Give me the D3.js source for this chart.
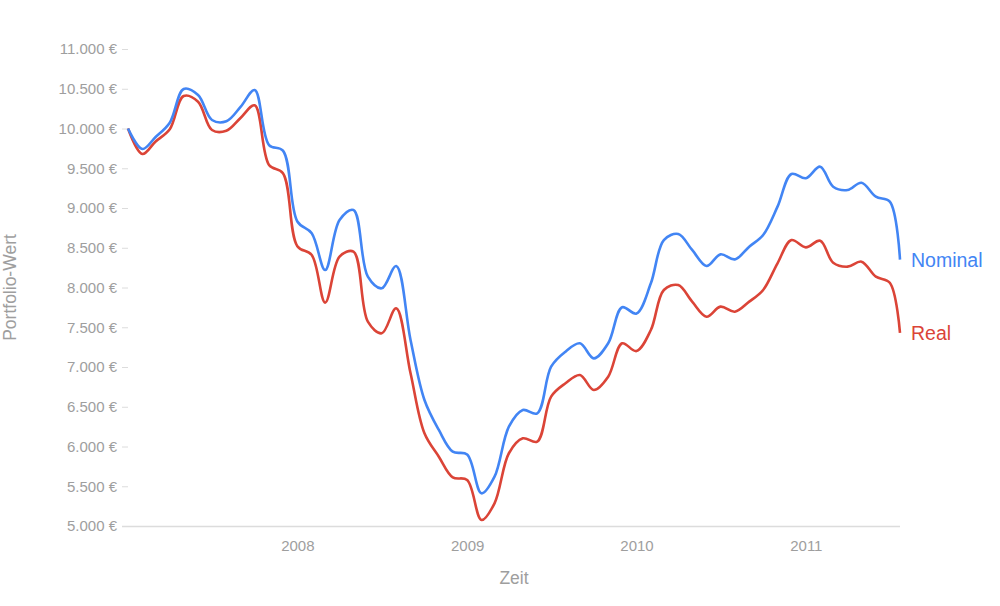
<!DOCTYPE html>
<html>
<head>
<meta charset="utf-8">
<script src="https://cdn.jsdelivr.net/npm/d3@7"></script>
<style>
  html, body { margin: 0; padding: 0; background: #fff; }
  svg { display: block; font-family: "Liberation Sans", Arial, sans-serif; }
</style>
</head>
<body>
<svg id="chart" width="1000" height="606"></svg>
<script>
// ---- data ----
const dates = [
  "2007-01-01","2007-02-01","2007-03-01","2007-04-01","2007-05-01","2007-06-01",
  "2007-07-01","2007-08-01","2007-09-01","2007-10-01","2007-11-01","2007-12-01",
  "2008-01-01","2008-02-01","2008-03-01","2008-04-01","2008-05-01","2008-06-01",
  "2008-07-01","2008-08-01","2008-09-01","2008-10-01","2008-11-01","2008-12-01",
  "2009-01-01","2009-02-01","2009-03-01","2009-04-01","2009-05-01","2009-06-01",
  "2009-07-01","2009-08-01","2009-09-01","2009-10-01","2009-11-01","2009-12-01",
  "2010-01-01","2010-02-01","2010-03-01","2010-04-01","2010-05-01","2010-06-01",
  "2010-07-01","2010-08-01","2010-09-01","2010-10-01","2010-11-01","2010-12-01",
  "2011-01-01","2011-02-01","2011-03-01","2011-04-01","2011-05-01","2011-06-01",
  "2011-07-01","2011-07-23"
];
const nominal = [
  10000, 9742, 9890, 10073, 10497, 10421, 10107, 10091, 10275, 10484, 9792, 9721,
  8830, 8682, 8220, 8849, 8975, 8136, 7990, 8270, 7340, 6585, 6208, 5935,
  5900, 5411, 5620, 6249, 6459, 6417, 7004, 7193, 7298, 7109, 7298, 7751,
  7672, 8053, 8597, 8673, 8472, 8270, 8417, 8354, 8513, 8660, 9017, 9428,
  9374, 9520, 9268, 9226, 9318, 9142, 9080, 8350
];
const real = [
  10000, 9679, 9834, 9990, 10409, 10337, 9981, 9972, 10136, 10292, 9541, 9437,
  8520, 8409, 7810, 8388, 8451, 7570, 7424, 7738, 6921, 6166, 5872, 5612,
  5579, 5075, 5285, 5915, 6103, 6061, 6627, 6795, 6899, 6711, 6878, 7298,
  7200, 7465, 7969, 8031, 7822, 7633, 7759, 7696, 7822, 7969, 8304, 8597,
  8505, 8588, 8312, 8262, 8325, 8136, 8060, 7430
];
const seriesNames = ["Nominal", "Real"];
const yTicks = [5000, 5500, 6000, 6500, 7000, 7500, 8000, 8500, 9000, 9500, 10000, 10500, 11000];
const xTickYears = ["2008-01-01", "2009-01-01", "2010-01-01", "2011-01-01"];
const xTickLabels = ["2008", "2009", "2010", "2011"];
const xTitle = "Zeit";
const yTitle = "Portfolio-Wert";

// ---- setup ----
const parse = d3.timeParse("%Y-%m-%d");
const svg = d3.select("#chart");
const colors = ["#4285F4", "#DB4437"];
const grey = "#9e9e9e";

const x = d3.scaleTime()
  .domain([parse("2007-01-01"), parse("2011-07-23")])
  .range([128, 900]);
const y = d3.scaleLinear().domain([5000, 11000]).range([526, 49]);

const de = d3.formatLocale({ decimal: ",", thousands: ".", grouping: [3], currency: ["", " €"] });
const fmt = v => de.format(",d")(v) + " €";

// y axis
const yAxis = svg.append("g")
  .attr("transform", "translate(128,0)")
  .call(d3.axisLeft(y).tickValues(yTicks).tickFormat(fmt).tickSize(6).tickPadding(5));
yAxis.select(".domain").remove();
yAxis.selectAll(".tick line").attr("stroke", "#dcdcdc");
yAxis.selectAll(".tick text")
  .attr("fill", grey).attr("font-size", "15px")
  .attr("font-family", "'Liberation Sans', Arial, sans-serif");

// x axis
const xAxis = svg.append("g")
  .attr("transform", "translate(0,526)")
  .call(d3.axisBottom(x)
    .tickValues(xTickYears.map(parse))
    .tickFormat((d, i) => xTickLabels[i])
    .tickSize(0).tickPadding(14));
xAxis.select(".domain").remove();
xAxis.selectAll(".tick text")
  .attr("fill", grey).attr("font-size", "15px")
  .attr("font-family", "'Liberation Sans', Arial, sans-serif");
svg.append("line")
  .attr("x1", 122).attr("x2", x.range()[1])
  .attr("y1", y(5000) + 0.5).attr("y2", y(5000) + 0.5)
  .attr("stroke", "#dcdcdc").attr("stroke-width", 1.5);

// titles
svg.append("text")
  .attr("x", (x.range()[0] + x.range()[1]) / 2).attr("y", 584)
  .attr("text-anchor", "middle").attr("fill", grey).attr("font-size", "17.5px")
  .text(xTitle);
svg.append("text")
  .attr("transform", `translate(15.5,${(y.range()[0] + y.range()[1]) / 2}) rotate(-90)`)
  .attr("text-anchor", "middle").attr("fill", grey).attr("font-size", "17.5px")
  .text(yTitle);

// lines
const seriesData = [nominal, real];
const line = d3.line()
  .x((d, i) => x(parse(dates[i])))
  .y(d => y(d))
  .curve(d3.curveCatmullRom.alpha(0.5));

seriesData.slice().reverse().forEach((vals, ri) => {
  const i = seriesData.length - 1 - ri;
  svg.append("path")
    .datum(vals)
    .attr("fill", "none")
    .attr("stroke", colors[i])
    .attr("stroke-width", 2.6)
    .attr("stroke-linejoin", "round")
    .attr("d", line);
});

// end labels
seriesData.forEach((vals, i) => {
  const last = vals.length - 1;
  svg.append("text")
    .attr("x", x(parse(dates[last])) + 11)
    .attr("y", y(vals[last]))
    .attr("dy", "0.35em")
    .attr("fill", colors[i])
    .attr("font-size", "19.5px")
    .text(seriesNames[i]);
});
</script>
</body>
</html>
